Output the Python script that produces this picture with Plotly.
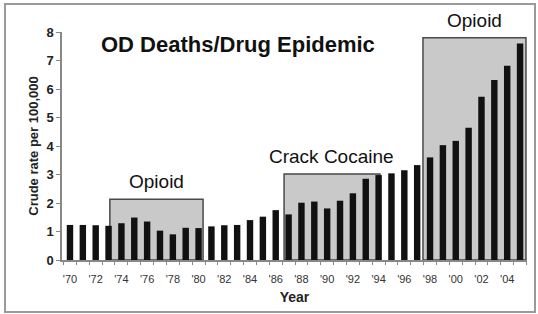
import plotly.graph_objects as go

years = list(range(1970, 2006))
rates = [1.23, 1.23, 1.22, 1.20, 1.29, 1.49, 1.35, 1.03, 0.90, 1.13,
         1.12, 1.18, 1.22, 1.23, 1.40, 1.52, 1.75, 1.60, 2.01, 2.05,
         1.81, 2.08, 2.34, 2.85, 2.98, 3.04, 3.15, 3.33, 3.60, 4.03,
         4.18, 4.64, 5.73, 6.32, 6.82, 7.60]
tick_years = list(range(1970, 2006, 2))
tick_labels = ["'%02d" % (y % 100) for y in tick_years]

epoch_names = ["Opioid", "Crack Cocaine", "Opioid"]
epoch_start = [1973.1, 1986.65, 1997.45]
epoch_end = [1980.35, 1994.1, 2005.46]
epoch_top = [2.13, 3.02, 7.8]

FONT = "Liberation Sans, Arial"

fig = go.Figure()
fig.add_trace(go.Bar(x=years, y=rates, width=0.5,
                     marker=dict(color="#111111", line=dict(width=0))))

for name, x0, x1, top in zip(epoch_names, epoch_start, epoch_end, epoch_top):
    fig.add_shape(type="rect", xref="x", yref="y", x0=x0, x1=x1, y0=0, y1=top,
                  fillcolor="#c9c9c9", line=dict(color="#4a4a4a", width=1.5),
                  layer="below")
    fig.add_annotation(x=(x0 + x1) / 2, y=top, xref="x", yref="y",
                       text=name, showarrow=False, yanchor="bottom", yshift=5,
                       font=dict(family=FONT, size=19, color="#111"))

fig.add_annotation(x=(238 - 62) / 465, y=(260 - 45) / 228, xref="paper", yref="paper",
                   text="<b>OD Deaths/Drug Epidemic</b>", showarrow=False,
                   xanchor="center", yanchor="middle",
                   font=dict(family=FONT, size=22, color="#111"))

# outer border
fig.add_shape(type="rect", xref="paper", yref="paper",
              x0=(5 - 62) / 465, x1=(535 - 62) / 465,
              y0=-(312 - 260) / 228, y1=(260 - 4) / 228,
              line=dict(color="#9a9a9a", width=2), fillcolor="rgba(0,0,0,0)")

fig.update_layout(
    width=538, height=314,
    margin=dict(l=62, r=11, t=32, b=54),
    paper_bgcolor="white", plot_bgcolor="white",
    showlegend=False,
    font=dict(family=FONT, color="#222"),
    xaxis=dict(range=[1969.38, 2005.54], tickvals=tick_years, ticktext=tick_labels,
               ticks="", showline=True, linecolor="#888", linewidth=1.5,
               showgrid=False, zeroline=False, automargin=False,
               ticklabelstandoff=8,
               tickfont=dict(size=11, family=FONT, color="#333"),
               tickprefix="<b>", ticksuffix="</b>",
               minor=dict(tick0=1969.5, dtick=1, ticks="outside", ticklen=3,
                          tickcolor="#888", showgrid=False),
               title=dict(text="<b>Year</b>", font=dict(size=14, color="#222"), standoff=8)),
    yaxis=dict(range=[0, 8], dtick=1, ticks="outside", ticklen=4, tickcolor="#888",
               showline=True, linecolor="#888", linewidth=1.5,
               showgrid=False, zeroline=False, automargin=False,
               tickfont=dict(size=13, family=FONT, color="#222"),
               tickprefix="<b>", ticksuffix="</b>",
               title=dict(text="<b>Crude rate per 100,000</b>",
                          font=dict(size=13, color="#222"), standoff=5)),
)
fig.write_html("out.html", config={"displayModeBar": False},
               post_script="document.body.style.margin='0';")
